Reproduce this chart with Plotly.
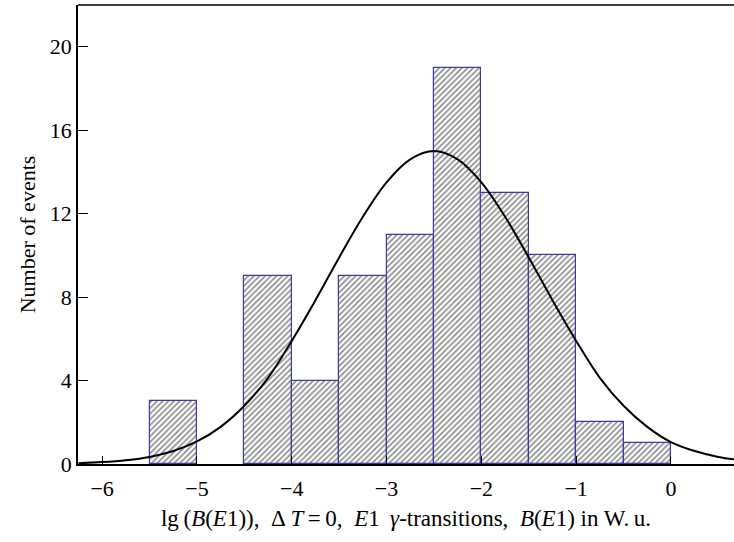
import plotly.graph_objects as go

# Histogram: bin left edges (width 0.5) and counts
bin_left = [-5.5, -5.0, -4.5, -4.0, -3.5, -3.0, -2.5, -2.0, -1.5, -1.0, -0.5]
counts = [3, 0, 9, 4, 9, 11, 19, 13, 10, 2, 1]
bin_width = 0.5

# Fitted curve, values
curve_x = [-6.25, -6.0, -5.75, -5.5, -5.25, -5.0, -4.75, -4.5, -4.25, -4.0, -3.75,
           -3.5, -3.25, -3.0, -2.75, -2.5, -2.25, -2.0, -1.75, -1.5, -1.25, -1.0,
           -0.75, -0.5, -0.25, 0.0, 0.25, 0.5, 0.75]
curve_y = [0.04, 0.09, 0.18, 0.34, 0.62, 1.08, 1.78, 2.79, 4.13, 5.9, 7.85,
           9.9, 11.85, 13.5, 14.6, 15.0, 14.6, 13.5, 11.85, 9.9, 7.85, 5.9,
           4.13, 2.79, 1.78, 1.05, 0.62, 0.34, 0.18]

x_ticks = [-6, -5, -4, -3, -2, -1, 0]
x_tick_text = ["\u22126", "\u22125", "\u22124", "\u22123", "\u22122", "\u22121", "0"]
y_ticks = [0, 4, 8, 12, 16, 20]

centers = [l + bin_width / 2 for l, c in zip(bin_left, counts) if c > 0]
vals = [c for c in counts if c > 0]

font_family = "Liberation Serif"

fig = go.Figure()
fig.add_trace(go.Bar(
    x=centers, y=vals, width=bin_width,
    marker=dict(
        color="white",
        line=dict(color="#3c3c9e", width=1.2),
        pattern=dict(shape="/", fgcolor="#1a1a1a", bgcolor="white", size=4, solidity=0.42),
    ),
    showlegend=False,
))
fig.add_trace(go.Scatter(
    x=curve_x, y=curve_y, mode="lines", line=dict(color="black", width=2, shape="spline"),
    showlegend=False,
))

fig.update_layout(
    width=734, height=542,
    margin=dict(l=78, r=0, t=5, b=78),
    plot_bgcolor="white", paper_bgcolor="white",
    font=dict(family=font_family, size=22, color="black"),
    bargap=0,
    xaxis=dict(
        range=[-6.255, 0.665], tickvals=x_ticks, ticktext=x_tick_text,
        ticks="inside", ticklen=8, tickwidth=1, tickcolor="black",
        ticklabelstandoff=4,
        showline=True, linecolor="black", linewidth=1.5,
        showgrid=False, zeroline=False,
        title=dict(text="lg\u2009(<i>B</i>(<i>E</i>1)),\u2002\u0394\u2009<i>T</i>\u2009=\u20090,\u2002<i>E</i>1\u2009 <i>\u03b3</i>-transitions,\u2002<i>B</i>(<i>E</i>1) in W.\u2009u.",
                   font=dict(size=23), standoff=10),
        tickfont=dict(size=22),
    ),
    yaxis=dict(
        range=[0, 22], tickvals=y_ticks,
        ticks="inside", ticklen=10, tickwidth=1, tickcolor="black",
        showline=True, linecolor="black", linewidth=1.5,
        showgrid=False, zeroline=False,
        title=dict(text="Number of events", font=dict(size=22), standoff=8),
        tickfont=dict(size=22),
    ),
)
fig.add_shape(type="line", xref="paper", yref="paper", x0=0, x1=1, y0=1, y1=1,
              line=dict(color="black", width=1.5))

fig.write_html("out.html")
